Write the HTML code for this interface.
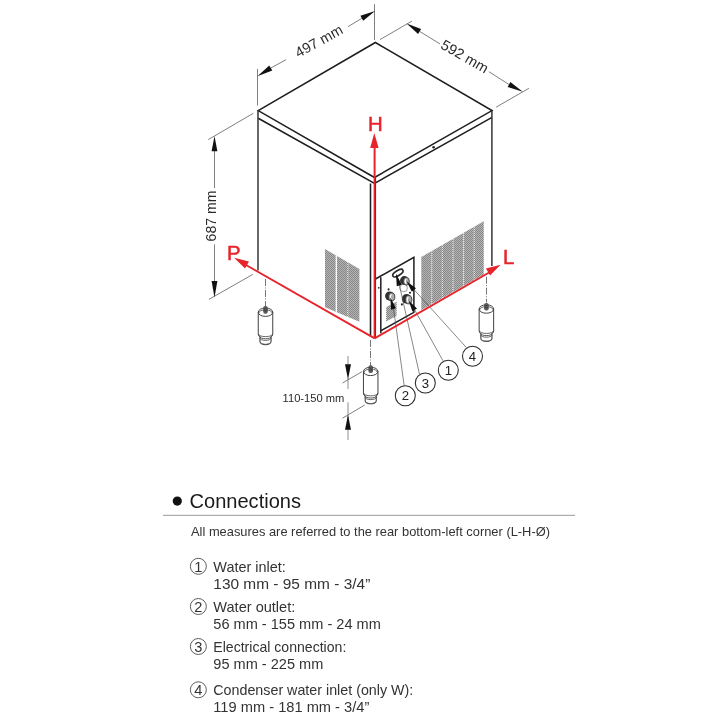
<!DOCTYPE html>
<html><head><meta charset="utf-8"><style>
html,body{margin:0;padding:0;background:#fff;width:720px;height:720px;overflow:hidden;position:relative;font-family:"Liberation Sans",sans-serif;}
</style></head><body>
<svg width="720" height="720" viewBox="0 0 720 720" style="position:absolute;left:0;top:0;will-change:transform">
<defs><clipPath id="cgL"><path d="M325,249 L359.4,269 L359.4,321.7 L325,307.2 Z"/></clipPath><clipPath id="cgR"><path d="M421.3,257 L483.75,221.2 L483.75,274.5 L421.3,310 Z"/></clipPath><clipPath id="cgP"><path d="M386,307.2 L396.7,301.5 L396.7,316 L386,321.5 Z"/></clipPath><pattern id="dots" width="2" height="2" patternUnits="userSpaceOnUse"><rect width="2" height="2" fill="#b5b5b5"/><rect x="0" y="0" width="1" height="1" fill="#878787"/><rect x="1" y="1" width="1" height="1" fill="#878787"/></pattern></defs>
<g clip-path="url(#cgL)"><rect x="320" y="240" width="45" height="90" fill="url(#dots)"/><path d="M336.3,240 L336.3,330" stroke="#fff" stroke-width="1.3"/><path d="M347.8,240 L347.8,330" stroke="#fff" stroke-width="0.9" stroke-dasharray="1,1"/></g>
<g clip-path="url(#cgR)"><rect x="415" y="215" width="75" height="100" fill="url(#dots)"/><path d="M431.8,215 L431.8,315" stroke="#fff" stroke-width="0.9" stroke-dasharray="1,1"/><path d="M442.4,215 L442.4,315" stroke="#fff" stroke-width="0.9" stroke-dasharray="1,1"/><path d="M453,215 L453,315" stroke="#fff" stroke-width="0.9" stroke-dasharray="1,1"/><path d="M463.6,215 L463.6,315" stroke="#fff" stroke-width="0.9" stroke-dasharray="1,1"/><path d="M474.2,215 L474.2,315" stroke="#fff" stroke-width="0.9" stroke-dasharray="1,1"/></g>
<g clip-path="url(#cgP)"><rect x="380" y="295" width="20" height="30" fill="url(#dots)"/><path d="M386.3,295 L386.3,325 M396.3,295 L396.3,325" stroke="#fff" stroke-width="0.8" stroke-dasharray="1,1"/></g>
<g fill="none" stroke="#1e1e1e" stroke-width="1.55" stroke-linejoin="miter">
<path d="M258.2,110.6 L375.4,42.5 L492,110.6 L374.5,177.5 Z"/>
<path d="M258.2,118.2 L374.5,183.4 L492,117.4"/>
<path d="M258.0,110.6 L258.0,270.5" stroke="#2e2e2e" stroke-width="1.45"/>
<path d="M491.9,110.6 L491.9,266" stroke="#2e2e2e" stroke-width="1.45"/>
<path d="M375.3,177.5 L375.3,338"/>
<path d="M370.5,183.5 L370.5,336"/>
<path d="M375.5,279 L413.9,257.4 L413.9,312.4 L380.8,330.8 M380.8,277.2 L380.8,333.3" stroke-width="1.5"/>
</g>
<circle cx="433.6" cy="147.2" r="1.3" fill="#222"/>
<path d="M378,288 L379.5,287.6" stroke="#222" stroke-width="1.3"/>
<circle cx="388.6" cy="289.4" r="1.05" fill="#222"/>
<circle cx="410" cy="292.8" r="1.05" fill="#222"/>
<circle cx="401.9" cy="304.4" r="1.05" fill="#222"/>
<ellipse cx="397.9" cy="273.1" rx="5.8" ry="2.5" transform="rotate(-31 397.9 273.1)" fill="#fff" stroke="#2a2a2a" stroke-width="1.7"/>
<circle cx="403.6" cy="288" r="3.8" fill="none" stroke="#777" stroke-width="0.7"/>
<circle cx="404.4" cy="280.5" r="4.4" fill="#2e2e2e"/><ellipse cx="406.40" cy="281.30" rx="2.99" ry="3.87" fill="#a8a8a8" stroke="#3a3a3a" stroke-width="0.9"/><path d="M406.10,278.78 Q404.16,281.30 406.10,283.82" stroke="#fff" stroke-width="1.1" fill="none"/>
<circle cx="389.7" cy="296.09999999999997" r="4.6" fill="#2e2e2e"/><ellipse cx="391.70" cy="296.90" rx="3.13" ry="4.05" fill="#a8a8a8" stroke="#3a3a3a" stroke-width="0.9"/><path d="M391.39,294.27 Q389.35,296.90 391.39,299.53" stroke="#fff" stroke-width="1.1" fill="none"/>
<circle cx="406.59999999999997" cy="298.9" r="4.8" fill="#2e2e2e"/><ellipse cx="408.60" cy="299.70" rx="3.26" ry="4.22" fill="#a8a8a8" stroke="#3a3a3a" stroke-width="0.9"/><path d="M408.27,296.95 Q406.15,299.70 408.27,302.45" stroke="#fff" stroke-width="1.1" fill="none"/>
<g stroke="#555" stroke-width="0.7" fill="none">
<path d="M393.3,307 L404.2,385.8"/>
<path d="M399.1,284 L419.5,374.2"/>
<path d="M414.2,309 L443,360.8"/>
<path d="M413.5,289 L466.3,347.5"/>
</g>
<path d="M396.01,273.83 L401.80,284.79 L396.80,286.21 Z" fill="#111"/>
<path d="M406.55,281.26 L415.97,288.26 L411.83,291.74 Z" fill="#111"/>
<path d="M390.32,297.32 L395.91,308.34 L391.09,309.66 Z" fill="#111"/>
<path d="M408.63,300.41 L416.98,308.56 L412.42,311.44 Z" fill="#111"/>
<circle cx="405.3" cy="395.8" r="10" fill="#fff" stroke="#2a2a2a" stroke-width="1.05"/>
<text x="405.3" y="400.40000000000003" text-anchor="middle" font-family="Liberation Sans" font-size="13.2" fill="#222">2</text>
<circle cx="425.3" cy="383" r="10" fill="#fff" stroke="#2a2a2a" stroke-width="1.05"/>
<text x="425.3" y="387.6" text-anchor="middle" font-family="Liberation Sans" font-size="13.2" fill="#222">3</text>
<circle cx="448.3" cy="370.3" r="10" fill="#fff" stroke="#2a2a2a" stroke-width="1.05"/>
<text x="448.3" y="374.90000000000003" text-anchor="middle" font-family="Liberation Sans" font-size="13.2" fill="#222">1</text>
<circle cx="472.5" cy="356.2" r="10" fill="#fff" stroke="#2a2a2a" stroke-width="1.05"/>
<text x="472.5" y="360.8" text-anchor="middle" font-family="Liberation Sans" font-size="13.2" fill="#222">4</text>
<g stroke="#707070" stroke-width="0.9" fill="none">
<path d="M257.5,68.9 L257.5,105.5 M374.5,4.2 L374.5,40"/>
<path d="M270.8,68 L286.1,59.7 M348,26.7 L361.8,18.3"/>
<path d="M380,39.6 L411.9,21.1 M496.1,107.2 L528.9,88.3"/>
<path d="M419.6,31.4 L440,43.9 M488.9,71.7 L509,84.5"/>
<path d="M208.3,139.6 L253.3,113.3 M208.9,299.4 L252.8,274.4"/>
<path d="M214.5,151 L214.5,188 M214.5,244.4 L214.5,281"/>
<path d="M348,356 L348,365 M348,402.2 L348,440" stroke="#999" stroke-width="1.1"/>
<path d="M348,378 L348,388.9 M348,417 L348,430" stroke="#999" stroke-width="1.1"/>
<path d="M342.5,383 L362,371.7 M342.5,418.2 L364.7,405"/>
</g>
<g stroke="#666" stroke-width="0.9" fill="none" stroke-dasharray="7,1.5,1,1.5">
<path d="M265.5,279 L265.5,306 M370.5,340 L370.5,365.7 M486.5,276.7 L486.5,302.5"/>
</g>
<path d="M257.40,76.16 L269.29,65.52 L272.31,70.48 Z" fill="#111"/>
<path d="M375.12,11.07 L363.18,20.85 L360.42,15.75 Z" fill="#111"/>
<path d="M406.60,23.54 L421.10,28.92 L418.10,33.88 Z" fill="#111"/>
<path d="M522.82,91.72 L507.66,87.07 L510.34,81.93 Z" fill="#111"/>
<path d="M214.50,136.00 L217.40,151.20 L211.60,151.20 Z" fill="#111"/>
<path d="M214.50,297.40 L211.60,281.00 L217.40,281.00 Z" fill="#111"/>
<path d="M348.00,379.60 L345.00,364.30 L351.00,364.30 Z" fill="#111"/>
<path d="M348.00,415.10 L351.00,429.80 L345.00,429.80 Z" fill="#111"/>
<text x="0" y="5.1" text-anchor="middle" font-size="14.4" font-family="Liberation Sans" fill="#2a2a2a" transform="translate(318.8 40.9) rotate(-29)">497 mm</text>
<text x="0" y="4.9" text-anchor="middle" font-size="14.4" font-family="Liberation Sans" fill="#2a2a2a" transform="translate(464.8 56.4) rotate(30)">592 mm</text>
<text x="0" y="5.2" text-anchor="middle" font-size="14.1" font-family="Liberation Sans" fill="#2a2a2a" transform="translate(210.6 216) rotate(-90)">687 mm</text>
<text x="282.6" y="402.1" font-size="11.15" font-family="Liberation Sans" fill="#2a2a2a">110-150 mm</text>
<g fill="none" stroke="#404040" stroke-width="1">
<path d="M258.25,312.2 L258.25,333.7 Q258.25,336.59999999999997 259.95,336.59999999999997 M272.75,312.2 L272.75,333.7 Q272.75,336.59999999999997 271.05,336.59999999999997"/>
<path d="M258.25,333.7 A7.25,2.94 0 0 0 272.75,333.7" stroke-width="0.8"/>
<path d="M259.95,336.59999999999997 A5.55,2.2 0 0 0 271.05,336.59999999999997" stroke-width="0.9"/>
<path d="M259.95,338.2 A5.55,2.2 0 0 0 271.05,338.2" stroke-width="0.8"/>
<path d="M259.95,336.59999999999997 L259.95,341.59999999999997 A5.55,3.0 0 0 0 271.05,341.59999999999997 L271.05,336.59999999999997" stroke-width="1.1"/>
<path d="M260.75,342.59999999999997 A4.75,1.8 0 0 0 270.25,342.59999999999997" stroke-width="0.8" stroke="#666"/>
<ellipse cx="265.5" cy="312.2" rx="7.25" ry="4.2"/>
<path d="M259.05,312.8 A6.45,3.0 0 0 1 271.95,312.8" stroke-width="0.8"/>
</g>
<rect x="263.2" y="306.09999999999997" width="4.6" height="7.6" rx="2" fill="#5a5a5a"/>
<path d="M263.5,308.7 L267.5,308.7 M263.5,310.7 L267.5,310.7" stroke="#333" stroke-width="0.6"/>
<g fill="none" stroke="#404040" stroke-width="1">
<path d="M479.15,309.0 L479.15,330.5 Q479.15,333.4 480.84999999999997,333.4 M493.65,309.0 L493.65,330.5 Q493.65,333.4 491.95,333.4"/>
<path d="M479.15,330.5 A7.25,2.94 0 0 0 493.65,330.5" stroke-width="0.8"/>
<path d="M480.84999999999997,333.4 A5.55,2.2 0 0 0 491.95,333.4" stroke-width="0.9"/>
<path d="M480.84999999999997,335.0 A5.55,2.2 0 0 0 491.95,335.0" stroke-width="0.8"/>
<path d="M480.84999999999997,333.4 L480.84999999999997,338.4 A5.55,3.0 0 0 0 491.95,338.4 L491.95,333.4" stroke-width="1.1"/>
<path d="M481.65,339.4 A4.75,1.8 0 0 0 491.15,339.4" stroke-width="0.8" stroke="#666"/>
<ellipse cx="486.4" cy="309.0" rx="7.25" ry="4.2"/>
<path d="M479.95,309.6 A6.45,3.0 0 0 1 492.84999999999997,309.6" stroke-width="0.8"/>
</g>
<rect x="484.09999999999997" y="302.9" width="4.6" height="7.6" rx="2" fill="#5a5a5a"/>
<path d="M484.4,305.5 L488.4,305.5 M484.4,307.5 L488.4,307.5" stroke="#333" stroke-width="0.6"/>
<g fill="none" stroke="#404040" stroke-width="1">
<path d="M363.45,371.4 L363.45,392.9 Q363.45,395.79999999999995 365.15,395.79999999999995 M377.95,371.4 L377.95,392.9 Q377.95,395.79999999999995 376.25,395.79999999999995"/>
<path d="M363.45,392.9 A7.25,2.94 0 0 0 377.95,392.9" stroke-width="0.8"/>
<path d="M365.15,395.79999999999995 A5.55,2.2 0 0 0 376.25,395.79999999999995" stroke-width="0.9"/>
<path d="M365.15,397.4 A5.55,2.2 0 0 0 376.25,397.4" stroke-width="0.8"/>
<path d="M365.15,395.79999999999995 L365.15,400.79999999999995 A5.55,3.0 0 0 0 376.25,400.79999999999995 L376.25,395.79999999999995" stroke-width="1.1"/>
<path d="M365.95,401.79999999999995 A4.75,1.8 0 0 0 375.45,401.79999999999995" stroke-width="0.8" stroke="#666"/>
<ellipse cx="370.7" cy="371.4" rx="7.25" ry="4.2"/>
<path d="M364.25,372.0 A6.45,3.0 0 0 1 377.15,372.0" stroke-width="0.8"/>
</g>
<rect x="368.4" y="365.29999999999995" width="4.6" height="7.6" rx="2" fill="#5a5a5a"/>
<path d="M368.7,367.9 L372.7,367.9 M368.7,369.9 L372.7,369.9" stroke="#333" stroke-width="0.6"/>
<g stroke="#e6242b" stroke-width="2" fill="none">
<path d="M374.6,338.3 L374.6,147"/>
<path d="M374.6,338.3 L246,265"/>
<path d="M374.6,338.3 L490,272"/>
</g>
<path d="M374.30,133.00 L378.60,147.97 L370.20,148.03 Z" fill="#e6242b"/>
<path d="M234.09,257.76 L248.94,261.40 L245.06,268.40 Z" fill="#e6242b"/>
<path d="M500.60,264.65 L490.02,275.46 L485.98,268.54 Z" fill="#e6242b"/>
<text x="368.0" y="130.8" font-size="20.4" font-family="Liberation Sans" fill="#e6242b" stroke="#e6242b" stroke-width="0.5">H</text>
<text x="226.9" y="259.5" font-size="20.4" font-family="Liberation Sans" fill="#e6242b" stroke="#e6242b" stroke-width="0.5">P</text>
<text x="503" y="264.4" font-size="20.4" font-family="Liberation Sans" fill="#e6242b" stroke="#e6242b" stroke-width="0.5">L</text>
<circle cx="177.3" cy="501.1" r="4.6" fill="#111"/>
<text x="189.5" y="507.8" font-family="Liberation Sans" font-size="19.5" fill="#1a1a1a" textLength="111.5" lengthAdjust="spacingAndGlyphs">Connections</text>
<rect x="163" y="514.8" width="412" height="1" fill="#9a9a9a"/>
<text x="191" y="535.6" font-size="12.6" font-family="Liberation Sans" fill="#333" textLength="359" lengthAdjust="spacingAndGlyphs">All measures are referred to the rear bottom-left corner (L-H-Ø)</text>
<circle cx="198.35" cy="566.3" r="8.0" fill="none" stroke="#555" stroke-width="0.95"/>
<text x="198.2" y="571.5" text-anchor="middle" font-size="14.6" font-family="Liberation Sans" fill="#333">1</text>
<text x="213.3" y="571.7" font-size="14.6" font-family="Liberation Sans" fill="#333" textLength="72.5" lengthAdjust="spacingAndGlyphs">Water inlet:</text>
<text x="213.3" y="588.7" font-size="14.6" font-family="Liberation Sans" fill="#333" textLength="157" lengthAdjust="spacingAndGlyphs">130 mm  - 95 mm  - 3/4”</text>
<circle cx="198.35" cy="606.5" r="8.0" fill="none" stroke="#555" stroke-width="0.95"/>
<text x="198.2" y="611.7" text-anchor="middle" font-size="14.6" font-family="Liberation Sans" fill="#333">2</text>
<text x="213.3" y="611.8" font-size="14.6" font-family="Liberation Sans" fill="#333" textLength="82" lengthAdjust="spacingAndGlyphs">Water outlet:</text>
<text x="213.3" y="628.9" font-size="14.6" font-family="Liberation Sans" fill="#333" textLength="167.5" lengthAdjust="spacingAndGlyphs">56 mm - 155 mm - 24 mm</text>
<circle cx="198.35" cy="646.5" r="8.0" fill="none" stroke="#555" stroke-width="0.95"/>
<text x="198.2" y="651.7" text-anchor="middle" font-size="14.6" font-family="Liberation Sans" fill="#333">3</text>
<text x="213.3" y="651.9" font-size="14.6" font-family="Liberation Sans" fill="#333" textLength="133" lengthAdjust="spacingAndGlyphs">Electrical connection:</text>
<text x="213.3" y="668.9" font-size="14.6" font-family="Liberation Sans" fill="#333" textLength="110" lengthAdjust="spacingAndGlyphs">95 mm - 225 mm</text>
<circle cx="198.35" cy="689.8" r="8.0" fill="none" stroke="#555" stroke-width="0.95"/>
<text x="198.2" y="695.0" text-anchor="middle" font-size="14.6" font-family="Liberation Sans" fill="#333">4</text>
<text x="213.3" y="695.1" font-size="14.6" font-family="Liberation Sans" fill="#333" textLength="200" lengthAdjust="spacingAndGlyphs">Condenser water inlet (only W):</text>
<text x="213.3" y="712.0" font-size="14.6" font-family="Liberation Sans" fill="#333" textLength="156" lengthAdjust="spacingAndGlyphs">119 mm - 181 mm - 3/4”</text>
</svg>
</body></html>
